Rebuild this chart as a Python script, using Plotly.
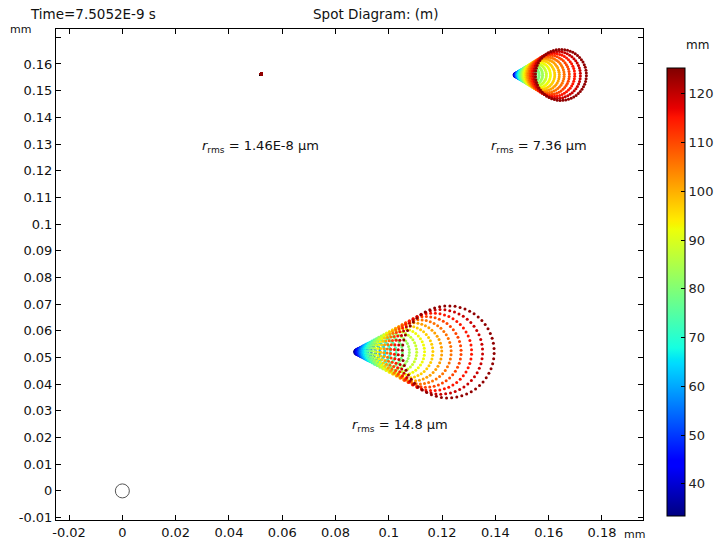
import numpy as np
import plotly.graph_objects as go

# ---- data ----
# spot diagrams: outer-ring centre (mm), outer-ring radius (mm), centre offset ratio (coma)
SPOT_CX = [0.0521, 0.1646, 0.1223]
SPOT_CY = [0.1562, 0.1559, 0.0521]
SPOT_R = [0.0, 0.00956, 0.01725]
SPOT_K = [2.0, 1.88, 2.09]
# pupil ring radii (mm) -> colour values
RING_RHO = [34, 38.5, 43, 47.5, 52, 56.5, 61, 65.5, 70, 74.5, 79, 83.5, 88, 92.5,
            97, 101.5, 106, 110.5, 115, 119.5, 124]
RHO_MAX = 124
RING_EXP = 2.3
# rms labels
RMS_TEXT = ["1.46E-8 µm", "7.36 µm", "14.8 µm"]
RMS_X = [0.0518, 0.1564, 0.1042]
RMS_Y = [0.1289, 0.1289, 0.0247]
# reference circle at origin
ORIGIN_X = [0.0]
ORIGIN_Y = [0.0]

XTICKS = [-0.02, 0, 0.02, 0.04, 0.06, 0.08, 0.1, 0.12, 0.14, 0.16, 0.18]
XTICKTEXT = ["-0.02", "0", "0.02", "0.04", "0.06", "0.08", "0.1", "0.12", "0.14", "0.16", "0.18"]
YTICKS = [-0.01, 0, 0.01, 0.02, 0.03, 0.04, 0.05, 0.06, 0.07, 0.08, 0.09, 0.1,
          0.11, 0.12, 0.13, 0.14, 0.15, 0.16, 0.17]
YTICKTEXT = ["-0.01", "0", "0.01", "0.02", "0.03", "0.04", "0.05", "0.06", "0.07", "0.08",
             "0.09", "0.1", "0.11", "0.12", "0.13", "0.14", "0.15", "0.16", ""]
CB_TICKS = [40, 50, 60, 70, 80, 90, 100, 110, 120]
CMIN, CMAX = 33.4, 125.3

JET = [
    [0.0, "rgb(0,0,128)"], [0.11, "rgb(0,0,255)"], [0.125, "rgb(0,0,255)"],
    [0.34, "rgb(0,219,255)"], [0.35, "rgb(0,229,247)"], [0.375, "rgb(21,255,226)"],
    [0.64, "rgb(238,255,8)"], [0.65, "rgb(247,245,0)"], [0.66, "rgb(255,236,0)"],
    [0.89, "rgb(255,19,0)"], [0.91, "rgb(232,0,0)"], [1.0, "rgb(128,0,0)"],
]

# build ray hit points for each spot (comatic rings)
xs, ys, cs = [], [], []
for cx, cy, R, k in zip(SPOT_CX, SPOT_CY, SPOT_R, SPOT_K):
    tip = cx - k * R
    for rho in RING_RHO:
        s = (rho / RHO_MAX) ** RING_EXP
        r = R * s
        c = tip + k * R * s
        n = max(6, int(round(56 * rho / RHO_MAX)))
        th = np.linspace(0, 2 * np.pi, n, endpoint=False) + 0.3
        xs.extend(c + r * np.cos(th))
        ys.extend(cy + r * np.sin(th))
        cs.extend([rho] * n)

fig = go.Figure()
fig.add_trace(go.Scatter(
    x=xs, y=ys, mode="markers",
    marker=dict(size=3, color=cs, colorscale=JET, cmin=CMIN, cmax=CMAX,
                line=dict(width=0),
                colorbar=dict(
                    thickness=18, thicknessmode="pixels",
                    len=448, lenmode="pixels",
                    x=(667 - 56) / 587, xanchor="left",
                    y=(520 - 292) / 491, yanchor="middle",
                    outlinecolor="black", outlinewidth=1,
                    ticks="inside", ticklen=4, tickcolor="black",
                    tickvals=CB_TICKS, ticktext=[str(v) for v in CB_TICKS],
                    tickfont=dict(family="DejaVu Sans", size=13, color="#222"),
                    xpad=0, ypad=0,
                )),
    showlegend=False, hoverinfo="skip",
))
fig.add_trace(go.Scatter(
    x=ORIGIN_X, y=ORIGIN_Y, mode="markers",
    marker=dict(symbol="circle-open", size=14, color="#555", line=dict(width=1, color="#555")),
    showlegend=False, hoverinfo="skip",
))

annotations = []
for t, x, y in zip(RMS_TEXT, RMS_X, RMS_Y):
    annotations.append(dict(
        x=x, y=y, xref="x", yref="y", showarrow=False,
        text="<i>r</i><sub>rms</sub> = " + t,
        font=dict(family="DejaVu Sans", size=13, color="#111"),
    ))
annotations += [
    dict(x=-0.0477, y=1.0305, xref="paper", yref="paper", xanchor="left", yanchor="middle",
         showarrow=False, text="Time=7.5052E-9 s",
         font=dict(family="DejaVu Sans", size=13.5, color="#111")),
    dict(x=0.545, y=1.0305, xref="paper", yref="paper", xanchor="center", yanchor="middle",
         showarrow=False, text="Spot Diagram: (m)",
         font=dict(family="DejaVu Sans", size=13.5, color="#111")),
    dict(x=-0.0613, y=0.998, xref="paper", yref="paper", xanchor="center", yanchor="middle",
         showarrow=False, text="mm", font=dict(family="DejaVu Sans", size=11, color="#111")),
    dict(x=0.9847, y=-0.0305, xref="paper", yref="paper", xanchor="center", yanchor="middle",
         showarrow=False, text="mm", font=dict(family="DejaVu Sans", size=11, color="#111")),
    dict(x=1.092, y=0.9674, xref="paper", yref="paper", xanchor="center", yanchor="middle",
         showarrow=False, text="mm", font=dict(family="DejaVu Sans", size=12, color="#111")),
]

axis_common = dict(
    showgrid=False, zeroline=False, showline=True, linecolor="black", linewidth=1,
    mirror="ticks", ticks="inside", ticklen=5, tickcolor="black", automargin=False,
    tickfont=dict(family="DejaVu Sans", size=13, color="#111"),
)
fig.update_layout(
    width=719, height=546,
    margin=dict(l=56, r=76, t=29, b=26, autoexpand=False),
    paper_bgcolor="white", plot_bgcolor="white",
    xaxis=dict(range=[-0.0249, 0.1954], tickvals=XTICKS, ticktext=XTICKTEXT, **axis_common),
    yaxis=dict(range=[-0.0109, 0.1731], tickvals=YTICKS, ticktext=YTICKTEXT, **axis_common),
    annotations=annotations,
)
fig.write_html("out.html", config={"displayModeBar": False},
               post_script="document.body.style.margin='0px';")
